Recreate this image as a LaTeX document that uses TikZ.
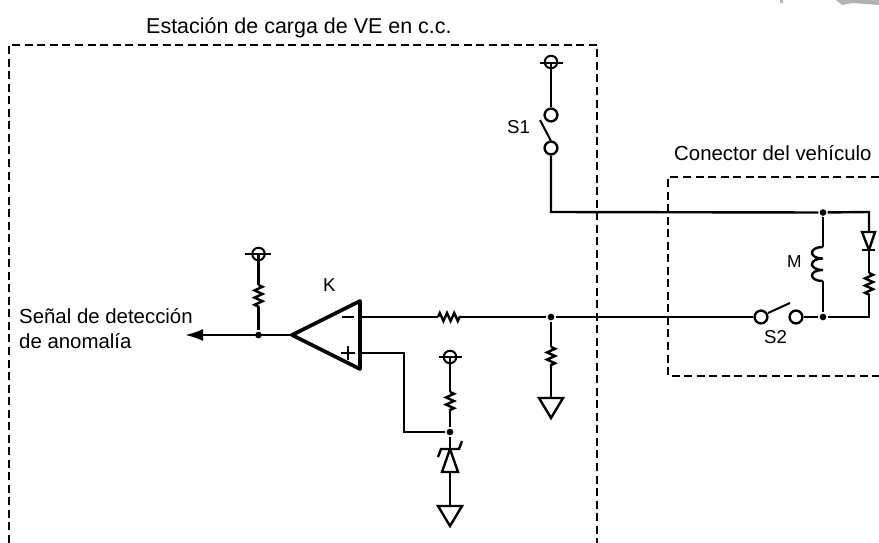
\documentclass[tikz,border=0pt]{standalone}
\usepackage{fontspec}
\setmainfont{Liberation Sans}
\usetikzlibrary{decorations.pathmorphing,arrows.meta}
\tikzset{every picture/.style={line width=1.8pt},
  contact/.style={circle,draw,fill=white,minimum size=9.6pt,inner sep=0pt},
  supply/.style={circle,draw,line width=1.5pt,minimum size=9.4pt,inner sep=0pt},
  junction/.style={circle,fill=black,minimum size=5pt,inner sep=0pt},
  zig/.style={decorate,decoration={zigzag,segment length=5.4pt,amplitude=3pt}},
  boxline/.style={line width=1.6pt,dash pattern={on 6pt off 3.4pt}},
  label/.style={anchor=north west,inner sep=0.75pt,align=left,font=\fontsize{15.3pt}{18.8pt}\selectfont},
  tag/.style={label,font=\fontsize{14pt}{16pt}\selectfont}}

\begin{document}
\begin{tikzpicture}[x=0.75pt,y=0.75pt,yscale=-1,xscale=1]
\useasboundingbox (0,0) rectangle (879,543);

%Dashed frames
\draw [boxline]  (9,543) -- (9,45) -- (597,45) -- (597,543) ;
\draw [boxline]  (879,177) -- (668,177) -- (668,376) -- (879,376) ;

%Faint marks along the top edge
\fill [black!30]  (780,0) rectangle (783,3) ;
\fill [black!30]  (836,0) -- (879,0) -- (879,5) -- (852,3) -- (842,5) -- cycle ;

% Points of the circuit
\coordinate (s1corner) at (551,212) ;
\coordinate (vehtr) at (869,212) ;
\coordinate (vehbr) at (869,317) ;
\coordinate (dioTop) at (869,232) ;
\coordinate (dioTip) at (869,250) ;
\coordinate (resVa) at (869,273) ;
\coordinate (resVb) at (869,295) ;
\coordinate (mTop) at (823,247) ;
\coordinate (mA) at (823,258.5) ;
\coordinate (mB) at (823,270) ;
\coordinate (mBot) at (823,281) ;
\coordinate (kTip) at (292,335) ;
\coordinate (kUp) at (360,301) ;
\coordinate (kLow) at (360,369) ;
\coordinate (kMinus) at (360,317) ;
\coordinate (kPlus) at (360,353) ;
\coordinate (resKa) at (438,317) ;
\coordinate (resKb) at (462,317) ;
\coordinate (plusA) at (404,353) ;
\coordinate (plusB) at (404,432) ;
\coordinate (resGa) at (551,347) ;
\coordinate (resGb) at (551,368) ;
\coordinate (gndA) at (551,398) ;
\coordinate (resZa) at (450,392) ;
\coordinate (resZb) at (450,413) ;
\coordinate (zenBar) at (450,449) ;
\coordinate (zenBase) at (450,472) ;
\coordinate (gndB) at (450,506) ;
\coordinate (resPa) at (258.5,285) ;
\coordinate (resPb) at (258.5,307) ;
\coordinate (outTip) at (185,335) ;

% Nodes
\node [junction] (dotTop) at (823,212.5) {};
\node [junction] (dotBot) at (823,317) {};
\node [junction] (dotMid) at (551,317) {};
\node [junction] (dotZen) at (450,432) {};
\node [junction] (dotOut) at (258.5,335) {};
\node [contact] (s1a) at (551,115) {};
\node [contact] (s1b) at (551,148) {};
\node [contact] (s2a) at (761,317) {};
\node [contact] (s2b) at (796,317) {};
\node [supply] (supS) at (551,62) {};
\node [supply] (supZ) at (450,357) {};
\node [supply] (supP) at (258.5,254) {};

%Straight Lines
\draw (supS.center) -- (s1a) ;
\draw (s1b) -- (s1corner) -- (dotTop) -- (vehtr) -- (dioTop) ;
\draw (dioTip) -- (resVa) ;
\draw (resVb) -- (vehbr) -- (dotBot) -- (s2b) ;
\draw (dotTop) -- (mTop) ;
\draw (mBot) -- (dotBot) ;
\draw (kMinus) -- (resKa) ;
\draw (resKb) -- (dotMid) -- (s2a) ;
\draw (dotMid) -- (resGa) ;
\draw (resGb) -- (gndA) ;
\draw [line width=1.5pt] (kPlus) -- (plusA) -- (plusB) -- (dotZen) ;
\draw (supZ.center) -- (resZa) ;
\draw (resZb) -- (dotZen) -- (zenBar) ;
\draw (zenBase) -- (gndB) ;
\draw (supP.center) -- (resPa) ;
\draw (resPb) -- (dotOut) ;
\draw [-{Latex[length=13.5pt,width=9pt]}] (kTip) -- (outTip) ;

%Supply bars
\draw [line width=1.4pt] (540,63) -- (563,63) ;
\draw [line width=1.4pt] (439,357) -- (462,357) ;
\draw [line width=1.4pt] (245,254) -- (271,254) ;

%Switch arms
\draw [line width=1.5pt] (540,120) -- (551,141) ;
\draw [line width=1.5pt] (768,313) -- (790,303) ;

%Resistors
\draw [zig] (resVa) -- (resVb) ;
\draw [zig] (resKa) -- (resKb) ;
\draw [zig] (resGa) -- (resGb) ;
\draw [zig] (resZa) -- (resZb) ;
\draw [zig] (resPa) -- (resPb) ;

%Coil
\draw (mTop) to [out=180,in=180,distance=11pt] (mA) to [out=180,in=180,distance=11pt] (mB) to [out=180,in=180,distance=11pt] (mBot) ;

%Diodes
\draw [line join=miter] (862,232) -- (875,232) -- (dioTip) -- cycle ;
\draw (862,250) -- (875,250) ;
\draw [line join=miter] (zenBar) -- (458,472) -- (442,472) -- cycle ;
\draw (438,457) -- (441,449) -- (459,449) -- (462,441) ;

%Grounds
\draw [line join=miter] (539,398) -- (563,398) -- (551,418) -- cycle ;
\draw [line join=miter] (438,506) -- (462,506) -- (450,526) -- cycle ;

%Comparator
\draw [line width=2.8pt,line join=round] (kTip) -- (kUp) -- (kLow) -- cycle ;
\draw (342,317) -- (354,317) ;
\draw [line width=1.3pt] (341,353) -- (355,353) (348,346) -- (348,360) ;

% Text Node
\node [label,font=\fontsize{16.1pt}{18pt}\selectfont] (lblStation) at (144,15) {Estación de carga de VE en c.c.};
\node [label] (lblConn) at (672,143) {Conector del vehículo};
\node [label] (lblSignal) at (17,306) {Señal de detección\\de anomalía};
\node [tag] (lblS1) at (505,118) {S1};
\node [tag] (lblS2) at (762,328) {S2};
\node [tag,font=\fontsize{13pt}{15pt}\selectfont] (lblM) at (785,253) {M};
\node [tag] (lblK) at (321,276) {K};

\end{tikzpicture}
\end{document}
